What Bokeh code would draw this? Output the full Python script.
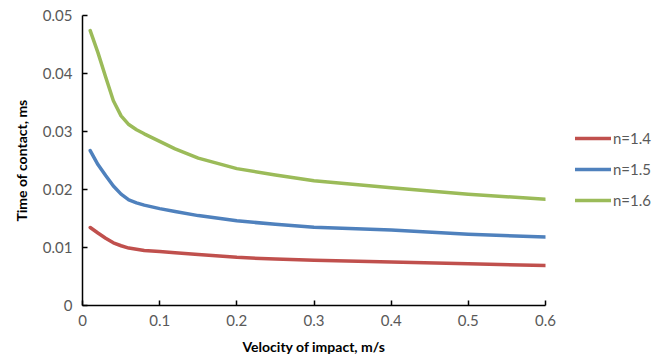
from bokeh.plotting import figure
from bokeh.models import Legend, LegendItem, Range1d, FixedTicker
from bokeh.embed import file_html
from bokeh.resources import INLINE

velocity = [0.01, 0.02, 0.03, 0.04, 0.05, 0.06, 0.07, 0.08, 0.1, 0.12, 0.15, 0.2, 0.25, 0.3, 0.4, 0.5, 0.6]
t_n14 = [0.01345, 0.0125, 0.0116, 0.0108, 0.0103, 0.0099, 0.0097, 0.0095, 0.0093, 0.0091, 0.0088, 0.0083, 0.0080, 0.0078, 0.0075, 0.0072, 0.0069]
t_n15 = [0.0267, 0.0243, 0.0224, 0.0206, 0.0192, 0.0182, 0.0177, 0.0173, 0.0167, 0.0162, 0.0155, 0.0146, 0.0140, 0.0135, 0.0130, 0.0123, 0.0118]
t_n16 = [0.0474, 0.0436, 0.0394, 0.0353, 0.0327, 0.0312, 0.0303, 0.0296, 0.0283, 0.0270, 0.0254, 0.0236, 0.0225, 0.0215, 0.0203, 0.0192, 0.0183]
series_names = ["n=1.4", "n=1.5", "n=1.6"]
series_colors = ["#C0504D", "#4F81BD", "#9BBB59"]
x_ticks = [0, 0.1, 0.2, 0.3, 0.4, 0.5, 0.6]
y_ticks = [0, 0.01, 0.02, 0.03, 0.04, 0.05]

FONT = "Lato"

p = figure(frame_width=463, frame_height=290, output_backend="svg", toolbar_location=None,
           x_range=Range1d(0, 0.6), y_range=Range1d(0, 0.05),
           min_border_left=82, min_border_top=15, min_border_right=10, min_border_bottom=36)
p.outline_line_color = None
p.xgrid.visible = False
p.ygrid.visible = False

renderers = []
for ys, c in zip([t_n14, t_n15, t_n16], series_colors):
    r = p.line(velocity, ys, line_color=c, line_width=3.5, line_cap="round", line_join="round")
    renderers.append(r)

for ax in (p.xaxis[0], p.yaxis[0]):
    ax.axis_line_color = "black"
    ax.axis_line_width = 1.5
    ax.major_tick_line_color = "black"
    ax.major_tick_line_width = 1.5
    ax.major_tick_in = 5
    ax.major_tick_out = 0
    ax.minor_tick_line_color = None
    ax.major_label_text_font = FONT
    ax.major_label_text_font_size = "15px"
    ax.major_label_text_color = "#595959"
    ax.axis_label_text_font = FONT
    ax.axis_label_text_font_size = "14px"
    ax.axis_label_text_font_style = "bold"
    ax.axis_label_text_color = "black"

p.xaxis.ticker = FixedTicker(ticks=x_ticks)
p.yaxis.ticker = FixedTicker(ticks=y_ticks)
p.xaxis.major_label_overrides = {t: ("0" if t == 0 else f"{t:g}") for t in x_ticks}
p.yaxis.major_label_overrides = {t: ("0" if t == 0 else f"{t:.2f}") for t in y_ticks}
p.xaxis.axis_label = "Velocity of impact, m/s"
p.yaxis.axis_label = "Time of contact, ms"
p.xaxis.major_label_standoff = 9
p.xaxis.axis_label_standoff = 9
p.yaxis.major_label_standoff = 10
p.yaxis.axis_label_standoff = 10

legend = Legend(items=[LegendItem(label=n, renderers=[r]) for n, r in zip(series_names, renderers)],
                location=(30, 95))
legend.border_line_color = None
legend.background_fill_alpha = 0
legend.label_text_font = FONT
legend.label_text_font_size = "15px"
legend.label_text_color = "#595959"
legend.glyph_width = 36
legend.label_standoff = 2
legend.spacing = 11
legend.padding = 0
legend.margin = 0
p.add_layout(legend, "right")

open("out.html", "w").write(file_html(p, INLINE))
